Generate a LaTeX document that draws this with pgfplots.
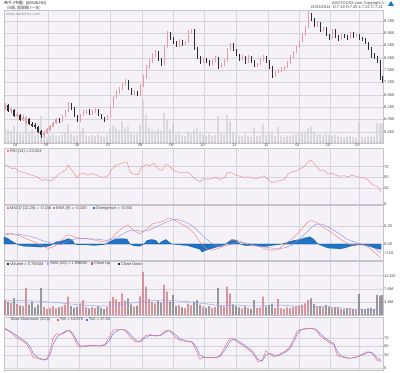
\documentclass[border=0pt]{standalone}
\usepackage{pgfplots}
\pgfplotsset{compat=1.18}
\usepackage{pgfplotstable}
\usepackage{fontspec}
\setmainfont{Liberation Sans}
\newfontfamily\cjk{Noto Sans CJK TC}
\definecolor{bgc}{RGB}{244,242,247}
\definecolor{gridc}{RGB}{214,213,220}
\definecolor{framec}{RGB}{196,196,202}
\definecolor{txtc}{RGB}{70,70,70}
\definecolor{upc}{RGB}{230,155,166}
\definecolor{dnc}{RGB}{45,45,45}
\definecolor{volc}{RGB}{205,205,209}
\definecolor{upv}{RGB}{200,100,112}
\definecolor{dnv}{RGB}{105,105,105}
\definecolor{smac}{RGB}{150,172,230}
\definecolor{rsic}{RGB}{240,130,130}
\definecolor{macdc}{RGB}{240,125,125}
\definecolor{sigc}{RGB}{140,140,225}
\definecolor{histc}{RGB}{30,115,195}
\definecolor{kc}{RGB}{240,100,100}
\definecolor{dc}{RGB}{100,100,235}
\newcommand{\fs}{\fontsize{4}{4.8}\selectfont}
\newcommand{\sq}[1]{\textcolor{#1}{\rule{2.2pt}{2.2pt}}}

\pgfplotstableread{
x o h l c v
5 6.40 6.58 6.36 6.52 4.3
8 6.52 6.55 6.30 6.34 3.9
11 6.34 6.42 6.22 6.38 3.5
14 6.36 6.40 6.12 6.16 4.9
17 6.16 6.28 6.10 6.22 3.2
20 6.20 6.24 6.00 6.04 2.8
23 6.04 6.18 6.00 6.12 2.6
26 5.95 6.14 5.90 6.08 7.8
29 6.06 6.10 5.86 5.90 3.0
32 5.90 5.96 5.80 5.86 3.9
35 5.86 5.92 5.74 5.80 2.2
38 5.80 5.84 5.62 5.66 3.0
41 5.66 5.72 5.45 5.55 7.8
44 5.55 5.66 5.48 5.62 2.4
47 5.62 5.76 5.58 5.72 1.8
50 5.72 5.86 5.68 5.82 2.1
53 5.82 5.98 5.80 5.94 2.6
56 5.94 6.10 5.90 6.05 1.9
59 6.05 6.08 5.92 5.98 2.2
62 5.98 6.20 5.95 6.16 2.5
65 6.16 6.36 6.12 6.32 3.0
68 6.32 6.62 6.30 6.55 5.3
71 6.55 6.58 6.36 6.40 2.6
74 6.40 6.44 6.12 6.16 2.1
77 6.16 6.20 5.95 6.00 2.4
80 6.00 6.24 5.98 6.20 3.4
83 6.20 6.34 6.16 6.30 4.3
86 6.30 6.40 6.24 6.35 2.2
89 6.35 6.38 6.20 6.25 1.9
92 6.25 6.34 6.20 6.30 2.3
95 6.30 6.42 6.26 6.38 2.0
98 6.38 6.40 6.16 6.20 2.6
101 6.20 6.24 6.06 6.10 2.1
104 6.10 6.14 5.98 6.05 1.7
107 6.05 6.20 6.02 6.15 2.4
110 6.15 6.50 6.12 6.45 4.0
113 6.45 6.80 6.42 6.75 5.2
116 6.75 7.00 6.70 6.95 4.5
119 6.95 7.10 6.88 7.05 3.8
122 7.05 7.25 7.00 7.20 6.3
125 7.20 7.38 7.14 7.30 4.2
128 7.30 7.32 7.00 7.05 4.8
131 7.05 7.08 6.85 6.90 3.1
134 6.90 7.00 6.84 6.95 2.4
137 6.95 6.98 6.80 6.85 2.7
140 6.85 7.20 6.82 7.15 5.4
143 7.15 7.50 7.10 7.40 12.5
146 7.40 7.82 7.36 7.75 8.2
149 7.75 8.00 7.70 7.95 4.6
152 7.95 8.20 7.90 8.15 3.8
155 8.15 8.30 8.08 8.25 3.4
158 8.25 8.28 7.96 8.00 4.1
161 8.00 8.04 7.80 7.85 3.6
164 7.85 8.46 7.82 8.40 8.7
167 8.40 8.92 8.36 8.85 6.8
170 8.85 8.90 8.64 8.70 3.9
173 8.70 8.74 8.50 8.55 5.8
176 8.55 8.60 8.40 8.45 2.6
179 8.45 8.66 8.42 8.60 2.9
182 8.60 8.64 8.44 8.50 2.2
185 8.50 8.60 8.46 8.55 2.0
188 8.55 8.95 8.52 8.90 3.3
191 8.90 9.00 8.84 8.95 2.8
194 8.95 8.98 8.30 8.35 3.9
197 8.35 8.40 8.00 8.05 4.3
200 8.05 8.10 7.86 7.90 2.9
203 7.90 8.06 7.88 8.00 2.4
206 8.00 8.04 7.90 7.95 2.1
209 7.95 7.98 7.80 7.85 2.6
212 7.85 8.00 7.82 7.95 2.0
215 7.95 8.10 7.92 8.05 2.3
218 8.05 8.08 7.70 7.75 7.8
221 7.75 7.90 7.72 7.85 2.8
224 7.85 8.00 7.80 7.95 2.5
227 7.95 8.36 7.92 8.30 8.2
230 8.30 8.55 8.26 8.50 6.3
233 8.50 8.52 8.26 8.30 3.1
236 8.30 8.34 8.10 8.15 2.6
239 8.15 8.18 7.96 8.00 2.2
242 8.00 8.15 7.98 8.10 1.9
245 8.10 8.12 7.86 7.90 2.5
248 7.90 8.14 7.88 8.10 2.1
251 8.10 8.12 7.90 7.95 1.8
254 7.95 7.98 7.76 7.80 4.3
257 7.80 7.90 7.76 7.85 2.0
260 7.85 8.04 7.82 8.00 2.2
263 8.00 8.14 7.96 8.10 5.3
266 8.10 8.12 7.90 7.95 2.4
269 7.95 7.98 7.70 7.75 2.9
272 7.75 7.78 7.40 7.45 3.3
275 7.45 7.64 7.42 7.60 2.0
278 7.60 7.70 7.56 7.65 4.6
281 7.65 7.74 7.60 7.70 1.9
284 7.70 7.78 7.64 7.75 1.7
287 7.75 7.94 7.72 7.90 2.2
290 7.90 8.14 7.86 8.10 2.0
293 8.10 8.28 8.05 8.25 2.4
296 8.25 8.44 8.20 8.40 2.6
299 8.40 8.64 8.36 8.60 2.8
302 8.60 8.84 8.56 8.80 3.0
305 8.80 9.10 8.76 9.05 3.4
308 9.05 9.58 9.02 9.45 4.3
311 9.45 9.50 9.26 9.30 4.8
314 9.30 9.34 9.05 9.10 3.2
317 9.10 9.26 9.06 9.20 2.4
320 9.20 9.22 8.90 8.95 2.6
323 8.95 9.06 8.92 9.00 2.2
326 9.00 9.04 8.76 8.80 2.9
329 8.80 8.84 8.64 8.70 2.5
332 8.70 9.00 8.68 8.95 2.0
335 8.95 8.98 8.70 8.75 2.3
338 8.75 8.78 8.60 8.65 2.1
341 8.65 8.84 8.62 8.80 1.8
344 8.80 8.84 8.70 8.75 1.6
347 8.75 8.78 8.64 8.70 1.9
350 8.70 8.90 8.68 8.85 2.0
353 8.85 8.88 8.70 8.75 1.7
356 8.75 8.84 8.72 8.80 1.5
359 8.80 8.84 8.64 8.70 6.1
362 8.70 8.74 8.60 8.65 1.8
365 8.65 8.70 8.50 8.55 1.6
368 8.55 8.58 8.30 8.35 1.9
371 8.35 8.40 8.05 8.10 2.1
374 8.10 8.20 8.00 8.05 1.7
377 8.05 8.12 7.90 7.95 5.8
380 7.95 7.98 7.32 7.35 5.6
382 7.34 7.45 7.22 7.31 5.76
}\price

\pgfplotstableread{
x s
5 4.3
20 4.2
40 4.0
60 3.5
80 2.9
100 2.6
115 2.7
130 3.4
145 4.0
160 4.3
175 4.1
190 3.8
205 3.3
220 2.7
235 2.9
250 2.6
265 2.7
280 2.9
295 2.6
310 2.6
325 2.4
340 2.1
355 1.6
370 1.5
382 1.6
}\sma

\pgfplotstableread{
x r
5 74
9 70
12 66
15 68
18 62
22 60
26 58
30 55
34 53
38 50
42 44
46 46
50 43
54 47
58 55
62 60
66 64
68 73
71 65
74 58
77 49
80 56
84 58
88 54
92 57
96 55
100 51
104 50
108 53
112 66
116 73
120 75
124 78
127 79
130 60
134 56
138 55
142 70
146 74
150 72
154 76
158 66
162 63
166 75
170 70
174 62
178 60
182 58
186 60
190 57
194 48
198 44
200 42
204 48
208 46
212 48
216 50
220 46
224 49
228 60
232 58
236 54
240 52
244 50
248 51
252 49
256 47
260 50
264 53
268 46
272 40
276 42
280 44
284 46
288 56
292 60
296 62
300 66
304 70
308 79
311 82
314 76
317 70
320 62
324 64
328 56
332 58
336 54
340 52
344 53
348 51
352 54
356 52
360 50
364 49
368 45
372 37
375 34
378 32
381 23
}\rsi

\pgfplotstableread{
x m
5 0.12
12 0.115
20 0.09
28 0.05
35 0.02
42 -0.02
48 -0.05
54 -0.03
60 0.03
66 0.09
70 0.10
76 0.07
84 0.06
92 0.05
100 0.03
106 0.02
112 0.07
118 0.14
124 0.19
128 0.21
134 0.15
140 0.11
146 0.16
152 0.22
158 0.24
163 0.25
168 0.29
174 0.27
180 0.23
188 0.18
194 0.12
200 0.02
206 -0.05
212 -0.07
218 -0.05
224 -0.02
230 0.04
236 0.045
242 0.02
248 -0.01
254 -0.02
260 -0.03
266 -0.06
272 -0.07
278 -0.06
284 -0.01
290 0.04
296 0.10
302 0.17
308 0.25
312 0.26
318 0.23
324 0.18
330 0.14
336 0.09
342 0.04
348 0.0
354 -0.01
360 -0.01
366 -0.02
372 -0.07
378 -0.13
381 -0.156
}\macd

\pgfplotstableread{
x s
5 0.105
12 0.11
20 0.105
28 0.09
35 0.07
42 0.04
48 0.02
54 0.0
60 -0.01
66 0.02
72 0.05
78 0.06
86 0.06
94 0.055
100 0.05
106 0.04
112 0.05
118 0.08
124 0.12
130 0.15
136 0.155
142 0.14
148 0.15
154 0.18
160 0.21
166 0.24
172 0.27
178 0.27
184 0.25
190 0.22
196 0.17
202 0.10
208 0.04
214 -0.01
220 -0.03
226 -0.02
232 0.0
238 0.02
244 0.015
250 0.0
256 -0.02
262 -0.03
268 -0.04
274 -0.05
280 -0.05
286 -0.04
292 -0.01
298 0.04
304 0.10
310 0.17
316 0.22
322 0.22
328 0.19
334 0.15
340 0.11
346 0.06
352 0.03
358 0.01
364 -0.01
370 -0.02
376 -0.06
381 -0.10
}\signal

\pgfplotstableread{
x d
4 0.08
8 0.06
12 0.03
16 0.005
18 -0.01
24 -0.025
32 -0.03
40 -0.035
46 -0.03
50 -0.02
53 0.0
56 0.025
60 0.03
64 0.04
68 0.06
72 0.045
75 0.0
78 -0.01
86 -0.01
94 -0.015
102 -0.01
106 0.0
110 0.03
116 0.055
122 0.06
127 0.055
130 0.0
134 -0.02
140 -0.025
144 0.0
147 0.04
152 0.05
156 0.04
159 0.0
162 0.03
166 0.05
169 0.02
172 0.0
180 -0.01
188 -0.02
194 -0.04
200 -0.06
202 -0.09
206 -0.07
212 -0.05
218 -0.03
224 -0.01
228 0.02
232 0.05
236 0.04
240 0.0
246 -0.02
252 -0.015
258 -0.02
264 -0.03
270 -0.02
276 -0.01
282 0.0
288 0.02
294 0.04
300 0.05
306 0.07
310 0.08
314 0.05
318 0.0
322 -0.02
328 -0.045
334 -0.05
340 -0.055
346 -0.04
352 -0.02
358 -0.01
364 -0.01
370 -0.03
376 -0.05
381 -0.06
}\hist

\pgfplotstableread{
x k d
5 90 92
10 84 86
17 70 75
23 62 66
27 55 58
30 42 50
33 25 35
38 22 24
43 18 20
47 22 20
50 40 30
53 70 55
57 80 72
60 78 78
63 82 80
67 88 86
70 85 87
73 75 80
77 55 62
80 48 52
85 52 50
90 53 52
95 51 52
100 52 51
105 55 53
110 75 66
113 88 80
118 90 88
123 90 90
127 82 86
131 70 76
136 60 64
140 62 60
145 75 70
150 78 76
155 74 76
160 76 75
166 88 84
170 86 87
175 72 78
180 64 68
186 62 63
192 60 61
196 42 50
200 20 30
204 26 24
208 24 25
212 25 24
216 23 24
220 30 27
225 50 42
230 70 62
234 66 68
238 60 63
244 50 54
250 40 44
254 30 34
258 14 20
262 18 16
266 40 30
270 32 34
274 26 30
278 30 28
282 36 33
286 40 38
290 50 45
294 70 62
297 85 78
301 90 88
306 92 91
312 92 92
316 88 90
320 75 80
325 66 70
330 58 62
334 54 56
337 30 40
340 26 30
345 24 25
350 22 23
355 25 24
360 30 28
365 35 33
368 38 36
371 36 37
374 28 32
377 18 24
381 14.9 17.5
}\stoch

\pgfplotsset{
  panel/.style={
    scale only axis, width=379pt, xmin=4, xmax=383,
    anchor=north west,
    axis background/.style={fill=bgc},
    axis line style={draw=framec, line width=0.4pt},
    xtick={17,48,79,110,142,173,204,236,268,299,330,359},
    xticklabels={},
    grid=major,
    major grid style={draw=gridc, line width=0.4pt},
    major tick length=0pt,
    yticklabel pos=right,
    tick label style={font=\fs, text=txtc},
    yticklabel style={anchor=west, inner sep=1pt},
    /pgf/number format/assume math mode=true,
    clip=true,
  },
  wick/.style={draw=none, mark=none, forget plot,
    error bars/.cd, y dir=both, y explicit, error mark=none,
    error bar style={draw=#1, line width=0.3pt}},
  body/.style={draw=none, mark=none, forget plot,
    error bars/.cd, y dir=both, y explicit, error mark=none,
    error bar style={draw=#1, line width=1.0pt}},
}

\begin{document}
\begin{tikzpicture}
\useasboundingbox (0pt,0pt) rectangle (400pt,373pt);
\fill[white] (0pt,0pt) rectangle (400pt,373pt);

% ---------------- main price panel
\begin{axis}[panel, at={(4pt,363pt)}, height=133pt,
  ymin=5.283, ymax=9.608,
  ytick={5.65,6.05,6.45,6.85,7.25,7.65,8.05,8.45,8.85,9.25},
  yticklabel style={/pgf/number format/.cd, fixed, fixed zerofill, precision=3},
  xticklabels={04,05,06,07,08,09,10,11,12,01,02,03},
  xticklabel style={inner sep=0.6pt, xshift=-1.5pt},
  minor xtick={5,8,...,380}, minor tick length=2pt, xtick pos=left,
  tick align=inside,
  minor x tick style={draw=gray!70, line width=0.3pt},
]
\addplot[ybar, bar width=1.3, bar shift=0pt, fill=volc, draw=none]
  table[x=x, y expr={5.283+\thisrow{v}*0.1122}] {\price};
\addplot[wick=upc] table[x=x,
  y expr={\thisrow{c}<\thisrow{o} ? nan : 0.5*(\thisrow{h}+\thisrow{l})},
  y error expr={0.5*(\thisrow{h}-\thisrow{l})}] {\price};
\addplot[body=upc] table[x=x,
  y expr={\thisrow{c}<\thisrow{o} ? nan : 0.5*(\thisrow{o}+\thisrow{c})},
  y error expr={0.5*abs(\thisrow{c}-\thisrow{o})+0.006}] {\price};
\addplot[wick=dnc] table[x=x,
  y expr={\thisrow{c}<\thisrow{o} ? 0.5*(\thisrow{h}+\thisrow{l}) : nan},
  y error expr={0.5*(\thisrow{h}-\thisrow{l})}] {\price};
\addplot[body=dnc] table[x=x,
  y expr={\thisrow{c}<\thisrow{o} ? 0.5*(\thisrow{o}+\thisrow{c}) : nan},
  y error expr={0.5*abs(\thisrow{c}-\thisrow{o})+0.006}] {\price};
\node[anchor=north west, font=\fs, text=gray!80, inner sep=0.5pt] at (rel axis cs:0.004,0.985) {www.aastocks.com};
\end{axis}

% ---------------- RSI
\begin{axis}[panel, at={(4pt,225pt)}, height=56pt, ymin=0, ymax=105,
  ytick={0,30,50,70}]
\addplot[rsic, line width=0.4pt, mark=none] table[x=x,y=r] {\rsi};
\node[anchor=west, font=\fs, text=txtc, inner sep=0.5pt] at (axis cs:6,99) {\sq{rsic} RSI (14) = 23.024};
\end{axis}

% ---------------- MACD
\begin{axis}[panel, at={(4pt,168pt)}, height=55pt, ymin=-0.178, ymax=0.433,
  ytick={0,0.2}, extra y ticks={-0.1}, extra y tick style={grid=none},
  yticklabel style={/pgf/number format/.cd, fixed, fixed zerofill, precision=2},
  extra y tick labels={-0.10}]
\addplot[fill=histc, draw=histc!80!black, line width=0.2pt, mark=none] table[x=x,y=d] {\hist} \closedcycle;
\addplot[macdc, line width=0.4pt, mark=none] table[x=x,y=m] {\macd};
\addplot[sigc, line width=0.4pt, mark=none] table[x=x,y=s] {\signal};
\node[anchor=west, font=\fs, text=txtc, inner sep=0.5pt] at (axis cs:6,0.40) {\sq{macdc} MACD (12,26) = -0.156};
\node[anchor=west, font=\fs, text=txtc, inner sep=0.5pt] at (axis cs:52,0.40) {\sq{sigc} EMA (9) = -0.100};
\node[anchor=west, font=\fs, text=txtc, inner sep=0.5pt] at (axis cs:92,0.40) {\sq{histc} Divergence = -0.056};
\end{axis}

% ---------------- Volume
\begin{axis}[panel, at={(4pt,112pt)}, height=54pt, ymin=0, ymax=15.65,
  ytick={3.8,7.6,11.4}, yticklabels={3.8M,7.6M,11.4M}]
\addplot[ybar, bar width=1.3, bar shift=0pt, fill=upv, draw=none]
  table[x=x, y expr={\thisrow{c}<\thisrow{o} ? nan : \thisrow{v}}] {\price};
\addplot[ybar, bar width=1.3, bar shift=0pt, fill=dnv, draw=none]
  table[x=x, y expr={\thisrow{c}<\thisrow{o} ? \thisrow{v} : nan}] {\price};
\addplot[smac, line width=0.5pt, mark=none] table[x=x,y=s] {\sma};
\node[anchor=west, font=\fs, text=txtc, inner sep=0.5pt] at (axis cs:6,14.9) {\sq{dnc} Volume = 5.7584M};
\node[anchor=west, font=\fs, text=txtc, inner sep=0.5pt] at (axis cs:46,14.9) {\sq{smac} SMA (20) = 1.5960M};
\node[anchor=west, font=\fs, text=txtc, inner sep=0.5pt] at (axis cs:90,14.9) {\sq{upv} Close Up};
\node[anchor=west, font=\fs, text=txtc, inner sep=0.5pt] at (axis cs:117,14.9) {\sq{dnc} Close Down};
\end{axis}

% ---------------- Slow stochastic
\begin{axis}[panel, at={(4pt,56pt)}, height=53pt, ymin=-4.65, ymax=118.6,
  ytick={0,30,50,70}]
\addplot[dc, line width=0.4pt, mark=none] table[x=x,y=d] {\stoch};
\addplot[kc, line width=0.4pt, mark=none] table[x=x,y=k] {\stoch};
\node[anchor=west, font=\fs, text=txtc, inner sep=0.5pt] at (axis cs:10,113) {Slow Stochastic (20,5)};
\node[anchor=west, font=\fs, text=txtc, inner sep=0.5pt] at (axis cs:56,113) {\sq{kc} \%K = 14.876};
\node[anchor=west, font=\fs, text=txtc, inner sep=0.5pt] at (axis cs:85,113) {\sq{dc} \%D = 17.50};
\end{axis}

% ---------------- header
\node[anchor=north west, font=\fs, text=black!85, inner sep=0pt] at (4pt,372pt) {{\cjk 味千 (中國)}\ \ [00538.HK]};
\node[anchor=north west, font=\fs, text=txtc, inner sep=0pt] at (7pt,367.3pt) {{\cjk 日線, 陰陽燭 (一年)}};
\node[anchor=north east, font=\fs, text=txtc, inner sep=0pt] at (385pt,372pt) {AASTOCKS.com Copyright \textcopyright};
\fill[histc] (388pt,367pt) -- (394pt,367pt) -- (391pt,372pt) -- cycle;
\node[anchor=north east, font=\fs, text=txtc, inner sep=0pt] at (383pt,367.5pt) {21/03/2014\ \ O:7.34\ H:7.45\ L:7.22\ C:7.31};
\end{tikzpicture}
\end{document}
